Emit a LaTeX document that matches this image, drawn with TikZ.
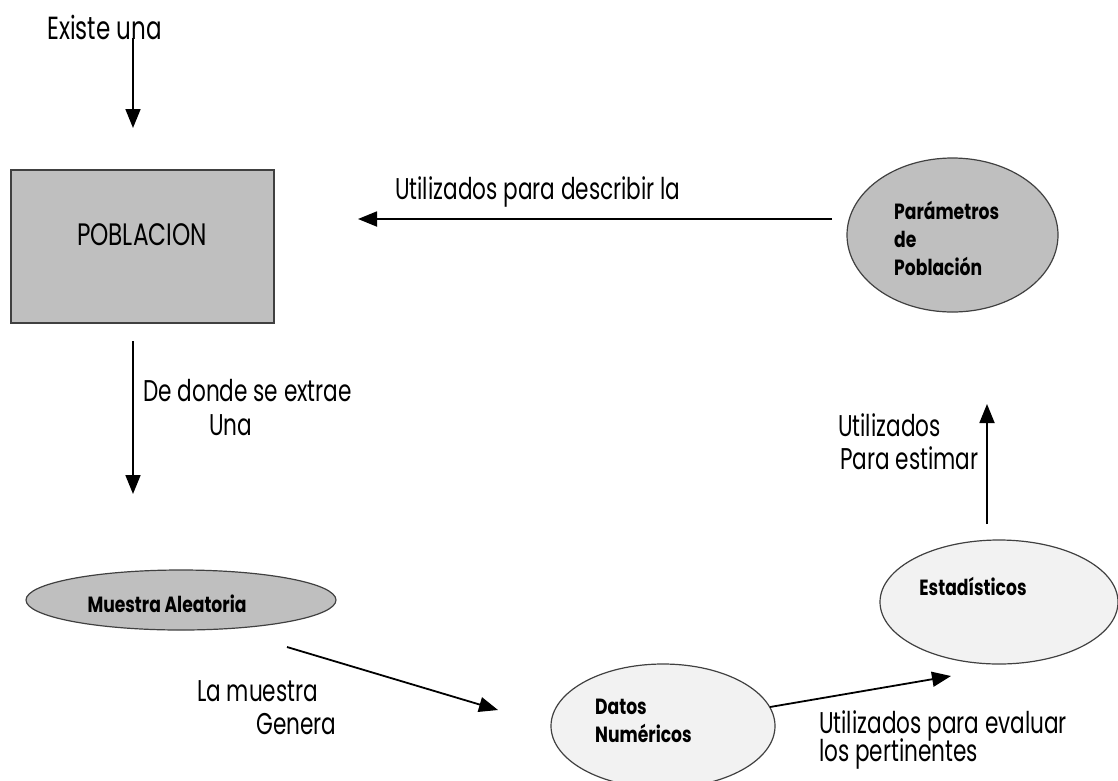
\documentclass[tikz,border=0pt]{standalone}
\usepackage{fontspec}
\setmainfont{Poppins}[FakeStretch=0.78]
\usetikzlibrary{shapes.geometric,arrows.meta}
\begin{document}
\begin{tikzpicture}[x=1pt,y=-1pt,
  lbl/.style={font=\fontsize{30}{34}\selectfont\addfontfeatures{FakeStretch=0.72}, inner sep=0pt, align=left},
  bold/.style={font=\fontsize{22}{28}\selectfont\bfseries, inner sep=0pt, align=left},
  arr/.style={line width=1.8pt, -{Triangle[length=19pt,width=15pt]}},
  grayfill/.style={draw=black!75, line width=1.2pt, fill=black!25},
  lightfill/.style={draw=black!75, line width=1.2pt, fill=black!5}]
\useasboundingbox (0,0) rectangle (1118,780);
% nodes
\node[font=\fontsize{32}{36}\selectfont\addfontfeatures{FakeStretch=0.72}, inner sep=0pt, anchor=west] (existe) at (47,27) {Existe una};
\node[grayfill, rectangle, minimum width=263pt, minimum height=153pt, inner sep=0pt] (pob) at (142.5,246.5) {};
\node[font=\fontsize{31}{36}\selectfont\addfontfeatures{FakeStretch=0.75}, inner sep=0pt] (pobt) at (142,235) {POBLACION};
\node[grayfill, ellipse, minimum width=211pt, minimum height=154pt, inner sep=0pt] (param) at (952.5,235) {};
\node[bold, anchor=west] (paramt) at (894,238) {Parámetros\\de\\Población};
\node[grayfill, ellipse, minimum width=310pt, minimum height=60pt, inner sep=0pt] (muestra) at (181,600) {};
\node[bold, anchor=center] (muestrat) at (167,604) {Muestra Aleatoria};
\node[lightfill, ellipse, minimum width=224pt, minimum height=124pt, inner sep=0pt] (datos) at (663,726) {};
\node[bold, anchor=west] (datost) at (595,721) {Datos\\Numéricos};
\node[lightfill, ellipse, minimum width=238pt, minimum height=124pt, inner sep=0pt] (estad) at (999,602) {};
\node[bold] (estadt) at (973,586) {Estadísticos};
% connector end points
\coordinate (a1s) at (133,38);
\coordinate (a1e) at (133,128);
\coordinate (a2s) at (133,341);
\coordinate (a2e) at (133,494);
\coordinate (a3s) at (287,647);
\coordinate (a3e) at (498,710);
\coordinate (a4s) at (770,707);
\coordinate (a4e) at (951,676);
\coordinate (a5s) at (987,524);
\coordinate (a5e) at (987,404);
\coordinate (a6s) at (832,219);
\coordinate (a6e) at (358,219);
\draw[arr] (a1s) -- (a1e);
\draw[arr] (a2s) -- (a2e);
\draw[arr] (a3s) -- (a3e);
\draw[arr] (a4s) -- (a4e);
\draw[arr] (a5s) -- (a5e);
\draw[arr] (a6s) -- (a6e);
% labels
\node[lbl, anchor=west] (l6) at (395,192) {Utilizados para describir la};
\node[lbl, anchor=west] (l2a) at (143,391) {De donde se extrae};
\node[lbl, anchor=west] (l2b) at (209,425) {Una};
\node[lbl, anchor=west] (l3a) at (197,691) {La muestra};
\node[lbl, anchor=west] (l3b) at (256,724) {Genera};
\node[lbl, anchor=west] (l4a) at (819,726) {Utilizados para evaluar};
\node[lbl, anchor=west] (l4b) at (819,754) {los pertinentes};
\node[lbl, anchor=west] (l5a) at (838,425) {Utilizados};
\node[lbl, anchor=west] (l5b) at (840,458) {Para estimar};
\end{tikzpicture}
\end{document}
